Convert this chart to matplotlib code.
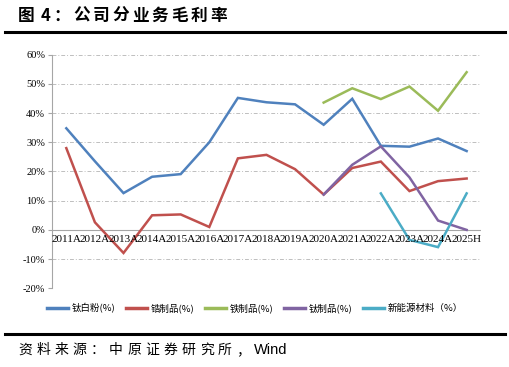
import matplotlib
matplotlib.use("Agg")
import matplotlib.pyplot as plt
from matplotlib.lines import Line2D

years = ['2011A', '2012A', '2013A', '2014A', '2015A', '2016A', '2017A', '2018A',
         '2019A', '2020A', '2021A', '2022A', '2023A', '2024A', '2025H']

tio2 = [34.8, 23.5, 12.6, 18.2, 19.1, 30.0, 45.2, 43.7, 43.0, 36.0, 44.9, 28.8, 28.5, 31.3, 27.0]
zr = [28.0, 2.6, -7.9, 5.0, 5.3, 1.0, 24.5, 25.7, 20.8, 12.1, 21.2, 23.4, 13.3, 16.7, 17.6]
fe = [None] * 9 + [43.6, 48.5, 44.8, 49.1, 40.8, 54.0]
ti = [None] * 9 + [12.1, 22.3, 28.6, 18.0, 3.2, 0.0]
newen = [None] * 11 + [12.5, -3.4, -5.9, 12.5]

labels = ['钛白粉(%)', '锆制品(%)', '铁制品(%)', '钛制品(%)', '新能源材料（%）']
colors = ['#4F81BD', '#C0504D', '#9BBB59', '#8064A2', '#4BACC6']
series = [tio2, zr, fe, ti, newen]

title = '图 4：公司分业务毛利率'
source = '资料来源：中原证券研究所，'

cjk = ['Noto Sans CJK SC', 'DejaVu Sans']
W, H = 510, 367

fig = plt.figure(figsize=(W / 100, H / 100), dpi=100)
ax = fig.add_axes([0.102, 0.2144, 0.841, 0.6366])

x = list(range(len(years)))
for vals, c in zip(series, colors):
    xs = [i for i, v in zip(x, vals) if v is not None]
    ys = [v for v in vals if v is not None]
    ax.plot(xs, ys, color=c, lw=1.8, solid_joinstyle='miter')

ax.set_xlim(-0.5, len(years) - 0.5)
ax.set_ylim(-20, 60)
ax.set_yticks(range(-20, 61, 10))
ax.set_yticklabels(['%d%%' % v for v in range(-20, 61, 10)],
                   family='Liberation Serif', fontsize=7.5)
ax.grid(axis='y', color='#BFBFBF', linestyle=(0, (4, 2, 1, 2)), lw=0.7)
ax.set_axisbelow(True)
for s in ['top', 'right', 'bottom']:
    ax.spines[s].set_visible(False)
ax.spines['left'].set_color('#A6A6A6')
ax.axhline(0, color='#A6A6A6', lw=0.8, zorder=1)
ax.tick_params(axis='y', length=3, color='#A6A6A6', pad=2)
ax.tick_params(axis='x', length=0)
ax.set_xticks([])
for i, y in enumerate(years):
    ax.text(i, -1.8, y, ha='center', va='top', family='Liberation Serif', fontsize=8)

handles = [Line2D([], [], color=c, lw=2.5) for c in colors]
fig.legend(handles, labels, loc='center', bbox_to_anchor=(0.5, 0.161), ncol=5,
           frameon=False, prop={'family': cjk, 'size': 6.8}, handlelength=2.2,
           columnspacing=1.15, handletextpad=0.4)

renderer = fig.canvas.get_renderer()


def spaced_text(x_px, y_px, s, gap, **kw):
    # draw string one glyph at a time to mimic letter spacing
    for ch in s:
        if ch == ' ':
            x_px += gap
            continue
        t = fig.text(x_px / W, 1 - y_px / H, ch, va='center', **kw)
        x_px += t.get_window_extent(renderer).width + gap
    return x_px


spaced_text(18, 16, title, 3.0, family=cjk, fontsize=12, fontweight='bold')
fig.add_artist(Line2D([0.01, 0.99], [1 - 31.5 / H] * 2, color='black', lw=2.2))
fig.add_artist(Line2D([0.01, 0.99], [1 - 334 / H] * 2, color='black', lw=2.2))
xe = spaced_text(18, 350, source, 4.3, family=cjk, fontsize=10)
fig.text(xe / W, 1 - 350 / H, 'Wind', va='center', family='Liberation Sans', fontsize=10.5)

fig.savefig('out.png', dpi=100)
